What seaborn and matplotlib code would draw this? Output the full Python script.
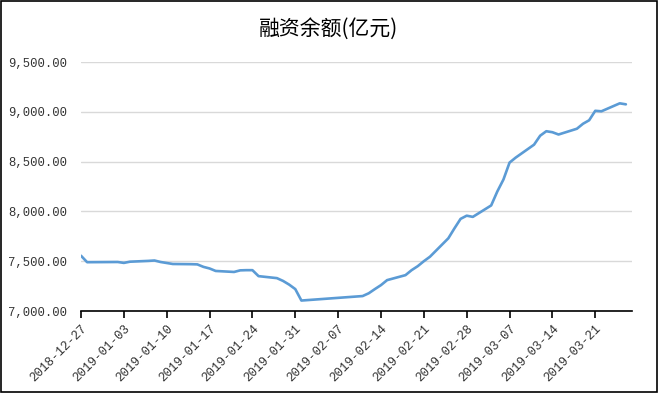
import matplotlib
matplotlib.use("Agg")
import matplotlib.pyplot as plt
import matplotlib.dates as mdates
from matplotlib.ticker import FuncFormatter
from matplotlib.patches import Rectangle
import seaborn as sns
import pandas as pd

dates = [
    "2018-12-27", "2018-12-28",
    "2019-01-02", "2019-01-03", "2019-01-04", "2019-01-07", "2019-01-08", "2019-01-09",
    "2019-01-10", "2019-01-11", "2019-01-14", "2019-01-15", "2019-01-16", "2019-01-17",
    "2019-01-18", "2019-01-21", "2019-01-22", "2019-01-23", "2019-01-24", "2019-01-25",
    "2019-01-28", "2019-01-29", "2019-01-30", "2019-01-31", "2019-02-01",
    "2019-02-11", "2019-02-12", "2019-02-13", "2019-02-14", "2019-02-15",
    "2019-02-18", "2019-02-19", "2019-02-20", "2019-02-21", "2019-02-22",
    "2019-02-25", "2019-02-26", "2019-02-27", "2019-02-28", "2019-03-01",
    "2019-03-04", "2019-03-05", "2019-03-06", "2019-03-07", "2019-03-08",
    "2019-03-11", "2019-03-12", "2019-03-13", "2019-03-14", "2019-03-15",
    "2019-03-18", "2019-03-19", "2019-03-20", "2019-03-21", "2019-03-22",
    "2019-03-25", "2019-03-26",
]
balance = [
    7555, 7490,
    7492, 7483, 7495, 7503, 7507, 7492,
    7482, 7472, 7470, 7468, 7443, 7427,
    7402, 7392, 7408, 7410, 7410, 7350,
    7330, 7302, 7265, 7220, 7105,
    7150, 7178, 7220, 7260, 7310,
    7360, 7410, 7450, 7500, 7545,
    7730, 7830, 7925, 7957, 7945,
    8060, 8200, 8320, 8490, 8540,
    8670, 8760, 8805, 8795, 8772,
    8830, 8880, 8915, 9010, 9005,
    9085, 9075,
]
tick_dates = ["2018-12-27", "2019-01-03", "2019-01-10", "2019-01-17", "2019-01-24",
              "2019-01-31", "2019-02-07", "2019-02-14", "2019-02-21", "2019-02-28",
              "2019-03-07", "2019-03-14", "2019-03-21"]
y_ticks = [7000, 7500, 8000, 8500, 9000, 9500]
title = "融资余额(亿元)"

df = pd.DataFrame({"date": pd.to_datetime(dates), "value": balance})

sns.set_theme(style="white")
plt.rcParams["font.family"] = ["Liberation Mono", "Noto Sans CJK SC", "DejaVu Sans"]

fig = plt.figure(figsize=(6.58, 3.93), dpi=100)
ax = fig.add_axes([81 / 658, 1 - 311 / 393, (632 - 81) / 658, (311 - 62) / 393])

sns.lineplot(data=df, x="date", y="value", ax=ax, color="#5B9BD5", linewidth=1.9)

ax.set_xlim(pd.Timestamp("2018-12-27"), pd.Timestamp("2019-03-27"))
ax.set_ylim(7000, 9500)
ax.set_yticks(y_ticks)
ax.yaxis.set_major_formatter(FuncFormatter(lambda v, p: f"{v:,.2f}"))
ax.set_xticks(pd.to_datetime(tick_dates))
ax.xaxis.set_major_formatter(mdates.DateFormatter("%Y-%m-%d"))
ax.grid(axis="y", color="#D9D9D9", linewidth=1)
ax.set_axisbelow(True)
for s in ["left", "right", "top"]:
    ax.spines[s].set_visible(False)
ax.spines["bottom"].set_color("black")
ax.spines["bottom"].set_linewidth(1.2)
ax.tick_params(axis="x", which="major", direction="out", length=5, width=1.2,
               color="black", bottom=True, labelsize=9, pad=3, labelcolor="#333333")
ax.tick_params(axis="y", length=0, labelsize=8.8, pad=10, labelcolor="#333333")
for lbl in ax.get_xticklabels():
    lbl.set_rotation(45)
    lbl.set_ha("right")
    lbl.set_rotation_mode("anchor")
ax.set_xlabel("")
ax.set_ylabel("")

fig.text(0.5, 1 - 29 / 393, title, ha="center", va="center", fontsize=15,
         family=["Noto Sans CJK SC", "DejaVu Sans"], color="black")

fig.patches.append(Rectangle((0.002, 0.003), 0.996, 0.994, transform=fig.transFigure,
                             fill=False, edgecolor="black", linewidth=1.2))

fig.savefig("out.png", dpi=100)
